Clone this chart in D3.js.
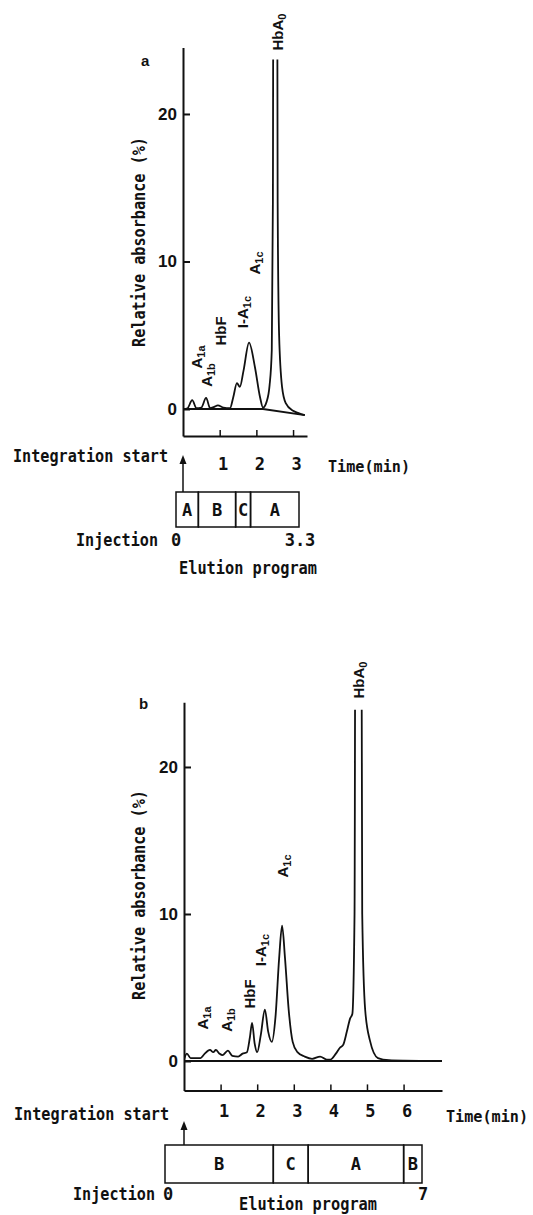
<!DOCTYPE html>
<html>
<head>
<meta charset="utf-8">
<script src="https://cdn.jsdelivr.net/npm/d3@7"></script>
<style>
body { margin: 0; background: #fff; }
svg { display: block; }
.mono { font-family: "DejaVu Sans Mono", "Liberation Mono", monospace; font-size: 17px; font-weight: bold; fill: #111; }
.peak { font-family: "Liberation Sans", Arial, sans-serif; font-weight: bold; font-size: 15px; fill: #111; }
</style>
</head>
<body>
<script>
// panel a chromatogram (time in min, relative absorbance in %)
var timeA = [0, 0.12, 0.25, 0.37, 0.5, 0.63, 0.74, 0.85, 0.95, 1.1, 1.28, 1.37, 1.47, 1.55, 1.65, 1.8, 1.96, 2.1, 2.18, 2.28, 2.36, 2.42, 2.45, 2.47, 2.56, 2.58, 2.62, 2.7, 2.8, 3.0, 3.15, 3.32];
var valA  = [0, 0.05, 0.6, 0.05, 0.1, 0.75, 0.05, 0.15, 0.25, 0.1, 0.05, 0.8, 1.75, 1.5, 2.6, 4.5, 2.85, 0.8, 0.1, 0.5, 1.6, 4, 14, 40, 40, 14, 5, 1.5, 0.4, -0.12, -0.28, -0.42];
var baseTimeA = [0, 2.18, 3.32];
var baseValA  = [0, 0, -0.42];

// panel b chromatogram
var timeB = [0, 0.08, 0.18, 0.3, 0.45, 0.55, 0.71, 0.8, 0.87, 0.97, 1.05, 1.2, 1.32, 1.48, 1.6, 1.72, 1.8, 1.86, 1.93, 2.0, 2.1, 2.21, 2.3, 2.4, 2.5, 2.6, 2.68, 2.76, 2.86, 2.97, 3.1, 3.3, 3.5, 3.72, 3.9, 4.0, 4.15, 4.26, 4.35, 4.45, 4.54, 4.6, 4.66, 4.69, 4.84, 4.87, 4.95, 5.08, 5.3, 5.6, 6.0, 6.5, 7.05];
var valB  = [0.1, 0.5, 0.2, 0.2, 0.2, 0.45, 0.75, 0.6, 0.75, 0.5, 0.4, 0.7, 0.35, 0.3, 0.5, 0.6, 1.6, 2.6, 1.2, 0.6, 1.8, 3.5, 2.0, 1.3, 3.0, 7.0, 9.2, 7.0, 3.5, 1.3, 0.6, 0.3, 0.15, 0.3, 0.1, 0.1, 0.5, 0.9, 1.1, 2.0, 2.9, 3.2, 10, 40, 40, 10, 3.5, 1.4, 0.2, 0.05, 0.02, 0.01, 0];
var baseTimeB = [0, 7.05];
var baseValB  = [0, 0];

var yTicks = [0, 10, 20];
var xTicksA = [1, 2, 3];
var xTicksB = [1, 2, 3, 4, 5, 6];

// elution program steps: buffer name and end time (min)
var progNamesA = ["A", "B", "C", "A"];
var progEndsA  = [0.6, 1.6, 2.0, 3.3];
var progNamesB = ["B", "C", "A", "B"];
var progEndsB  = [2.95, 3.9, 6.5, 7];

var peakMain = ["A", "A", "HbF", "I-A", "A", "HbA"];
var peakSub  = ["1a", "1b", "", "1c", "1c", "0"];

var svg = d3.select("body").append("svg")
  .attr("width", 533)
  .attr("height", 1215);

function drawPanel(c) {
  var g = svg.append("g");
  var x = d3.scaleLinear().domain(c.xDomain).range(c.xRange);
  var y = d3.scaleLinear().domain(c.yDomain).range(c.yRange);
  var p = d3.scaleLinear().domain([0, c.progEnds[c.progEnds.length - 1]]).range(c.progRange);

  g.append("clipPath").attr("id", c.id)
    .append("rect")
    .attr("x", c.xRange[0]).attr("y", y(c.clipTop))
    .attr("width", c.xRange[1] - c.xRange[0] + 10)
    .attr("height", c.yRange[0] - y(c.clipTop) + 5);

  // y axis, ticks point inward
  var ya = g.append("g")
    .attr("transform", "translate(" + c.xRange[0] + ",0)")
    .call(d3.axisLeft(y).tickValues(c.yTicks).tickSizeInner(-7).tickSizeOuter(0).tickPadding(6));
  ya.select(".domain").attr("stroke", "#111").attr("stroke-width", 2);
  ya.selectAll(".tick line").attr("stroke", "#111").attr("stroke-width", 2);
  ya.selectAll(".tick text")
    .attr("font-family", "Liberation Sans, Arial, sans-serif")
    .attr("font-weight", "bold")
    .attr("font-size", 17).attr("fill", "#111");

  // x axis, ticks point up, labels far below
  var xa = g.append("g")
    .attr("transform", "translate(0," + c.yRange[0] + ")")
    .call(d3.axisBottom(x).tickValues(c.xTicks).tickFormat(d3.format("d"))
      .tickSizeInner(-6).tickSizeOuter(0).tickPadding(c.xPad));
  xa.select(".domain").attr("stroke", "#111").attr("stroke-width", 2);
  xa.selectAll(".tick line").attr("stroke", "#111").attr("stroke-width", 1.5);
  xa.selectAll(".tick text").attr("class", "mono").attr("dx", 3).attr("font-size", null).attr("font-family", null);

  var line = d3.line()
    .x(function(d) { return x(d[0]); })
    .y(function(d) { return y(d[1]); })
    .curve(d3.curveMonotoneX);

  g.append("path")
    .datum(d3.zip(c.baseTime, c.baseVal))
    .attr("d", d3.line().x(function(d) { return x(d[0]); }).y(function(d) { return y(d[1]); }))
    .attr("fill", "none").attr("stroke", "#111").attr("stroke-width", 1.8);

  g.append("path")
    .datum(d3.zip(c.time, c.val))
    .attr("d", line)
    .attr("clip-path", "url(#" + c.id + ")")
    .attr("fill", "none").attr("stroke", "#111").attr("stroke-width", 1.8)
    .attr("stroke-linejoin", "round");

  // peak names, rotated
  c.labelX.forEach(function(lx, i) {
    var t = g.append("text").attr("class", "peak")
      .attr("text-anchor", "middle")
      .attr("transform", "translate(" + lx + "," + c.labelY[i] + ") rotate(-90)");
    t.append("tspan").text(peakMain[i]);
    if (peakSub[i]) t.append("tspan").style("font-size", "11px").attr("dy", 3).text(peakSub[i]);
  });

  g.append("text").attr("class", "peak")
    .attr("x", c.letterX).attr("y", c.letterY).text(c.letter);

  g.append("text").attr("class", "mono")
    .attr("text-anchor", "middle")
    .attr("transform", "translate(" + c.yLabelX + "," + c.yLabelY + ") rotate(-90)")
    .attr("textLength", 210).attr("lengthAdjust", "spacingAndGlyphs")
    .text("Relative absorbance (%)");

  g.append("text").attr("class", "mono")
    .attr("x", c.intX).attr("y", c.intY)
    .attr("textLength", 155).attr("lengthAdjust", "spacingAndGlyphs")
    .text("Integration start");

  g.append("text").attr("class", "mono")
    .attr("x", c.timeX).attr("y", c.timeY)
    .style("font-size", "15px")
    .attr("textLength", 82).attr("lengthAdjust", "spacingAndGlyphs")
    .text("Time(min)");

  // arrow from program box up to integration start
  var ax = x(0);
  g.append("line")
    .attr("x1", ax).attr("x2", ax)
    .attr("y1", c.boxTop).attr("y2", c.arrowTip + 5)
    .attr("stroke", "#111").attr("stroke-width", 1.5);
  g.append("path")
    .attr("d", "M" + ax + "," + c.arrowTip + "l-3.5,9h7z")
    .attr("fill", "#111");

  // elution program box
  var starts = [0].concat(c.progEnds.slice(0, -1));
  var seg = g.selectAll(".seg").data(c.progNames).enter().append("g");
  seg.append("rect")
    .attr("x", function(d, i) { return p(starts[i]); })
    .attr("y", c.boxTop)
    .attr("width", function(d, i) { return p(c.progEnds[i]) - p(starts[i]); })
    .attr("height", c.boxBottom - c.boxTop)
    .attr("fill", "none").attr("stroke", "#111").attr("stroke-width", 1.5);
  seg.append("text").attr("class", "mono")
    .attr("text-anchor", "middle")
    .attr("x", function(d, i) { return (p(starts[i]) + p(c.progEnds[i])) / 2; })
    .attr("y", (c.boxTop + c.boxBottom) / 2 + 6)
    .text(function(d) { return d; });

  g.append("text").attr("class", "mono")
    .attr("text-anchor", "end")
    .attr("x", c.injX).attr("y", c.injY)
    .attr("textLength", 82).attr("lengthAdjust", "spacingAndGlyphs")
    .text("Injection");
  g.append("text").attr("class", "mono")
    .attr("text-anchor", "middle")
    .attr("x", c.zeroX).attr("y", c.injY).text("0");
  g.append("text").attr("class", "mono")
    .attr("text-anchor", "middle")
    .attr("x", p(c.progEnds[c.progEnds.length - 1]) + c.endDx).attr("y", c.injY)
    .text(c.endLabel);

  g.append("text").attr("class", "mono")
    .attr("text-anchor", "middle")
    .attr("x", c.elX).attr("y", c.elY)
    .attr("textLength", 138).attr("lengthAdjust", "spacingAndGlyphs")
    .text("Elution program");
}

drawPanel({
  id: "clip-a", letter: "a", letterX: 141, letterY: 66,
  time: timeA, val: valA, baseTime: baseTimeA, baseVal: baseValA,
  xDomain: [0, 3.38], xRange: [183, 307],
  yDomain: [-1.83, 24.5], yRange: [436, 47.6], clipTop: 23.7,
  yTicks: yTicks, xTicks: xTicksA, xPad: 22,
  labelX: [202, 212, 226, 248, 260, 283], labelY: [357, 375, 331, 312, 263, 32],
  yLabelX: 145, yLabelY: 242,
  intX: 13, intY: 462, timeX: 328, timeY: 472,
  arrowTip: 455, boxTop: 492, boxBottom: 527,
  progNames: progNamesA, progEnds: progEndsA, progRange: [176, 299],
  injX: 158, injY: 546, zeroX: 176, endLabel: "3.3", endDx: 1,
  elX: 248, elY: 574
});

drawPanel({
  id: "clip-b", letter: "b", letterX: 139, letterY: 709,
  time: timeB, val: valB, baseTime: baseTimeB, baseVal: baseValB,
  xDomain: [0, 7.05], xRange: [184, 442],
  yDomain: [-2.0, 24.4], yRange: [1090.4, 702.3], clipTop: 23.9,
  yTicks: yTicks, xTicks: xTicksB, xPad: 15,
  labelX: [208, 232, 255, 266, 288, 364], labelY: [1018, 1020, 994, 950, 866, 680],
  yLabelX: 145, yLabelY: 895,
  intX: 14, intY: 1120, timeX: 446, timeY: 1122,
  arrowTip: 1121, boxTop: 1145, boxBottom: 1183,
  progNames: progNamesB, progEnds: progEndsB, progRange: [165, 422],
  injX: 155, injY: 1200, zeroX: 168, endLabel: "7", endDx: 1,
  elX: 308, elY: 1210
});
</script>
</body>
</html>
